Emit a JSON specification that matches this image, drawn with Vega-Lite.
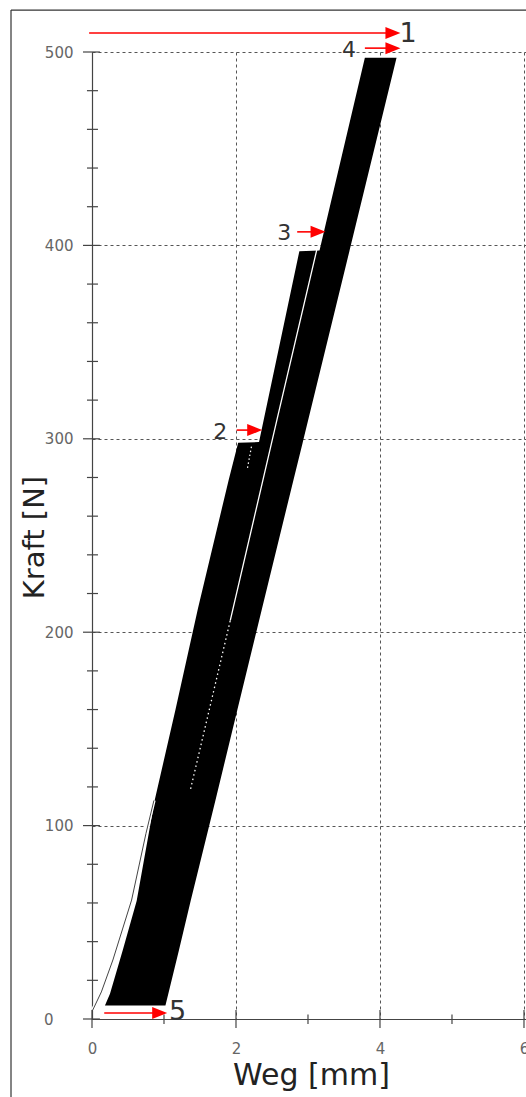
{
  "$schema": "https://vega.github.io/schema/vega-lite/v6.json",
  "width": 434,
  "height": 967,
  "autosize": {"type": "none"},
  "padding": {"left": 92, "top": 52, "right": 0, "bottom": 78},
  "background": "white",
  "config": {"view": {"stroke": null}, "font": "DejaVu Sans"},
  "datasets": {
    "one": [{}],
    "band": [
      {"F": 7, "l": 0.18, "r": 1.02},
      {"F": 13, "l": 0.25, "r": 1.06},
      {"F": 36, "l": 0.43, "r": 1.21},
      {"F": 61, "l": 0.62, "r": 1.37},
      {"F": 113, "l": 0.87, "r": 1.714},
      {"F": 160, "l": 1.16, "r": 2.02},
      {"F": 212, "l": 1.47, "r": 2.36},
      {"F": 279, "l": 1.9, "r": 2.8},
      {"F": 298, "l": 2.03, "r": 2.926},
      {"F": 298.3, "l": 2.32, "r": 2.928},
      {"F": 397, "l": 2.88, "r": 3.575},
      {"F": 397.3, "l": 3.16, "r": 3.577},
      {"F": 497, "l": 3.79, "r": 4.23}
    ],
    "gap_upper": [
      {"F": 399, "x": 3.13},
      {"F": 310, "x": 2.57},
      {"F": 206, "x": 1.92}
    ],
    "gap_lower": [
      {"F": 206, "x": 1.92},
      {"F": 119, "x": 1.37}
    ],
    "gap_a": [
      {"F": 297, "x": 2.22},
      {"F": 285, "x": 2.16}
    ],
    "initial": [
      {"F": 4.6, "x": 0.01},
      {"F": 14, "x": 0.13},
      {"F": 30.5, "x": 0.29},
      {"F": 61.5, "x": 0.55},
      {"F": 96, "x": 0.75},
      {"F": 113, "x": 0.86}
    ],
    "yticks_major": [{"v": 0}, {"v": 100}, {"v": 200}, {"v": 300}, {"v": 400}, {"v": 500}],
    "yticks_minor": [
      {"v": 20}, {"v": 40}, {"v": 60}, {"v": 80},
      {"v": 120}, {"v": 140}, {"v": 160}, {"v": 180},
      {"v": 220}, {"v": 240}, {"v": 260}, {"v": 280},
      {"v": 320}, {"v": 340}, {"v": 360}, {"v": 380},
      {"v": 420}, {"v": 440}, {"v": 460}, {"v": 480}
    ],
    "xticks_major": [{"v": 0}, {"v": 2}, {"v": 4}, {"v": 6}],
    "xticks_minor": [{"v": 1}, {"v": 3}, {"v": 5}],
    "arrows": [
      {"n": "1", "x0": -0.04, "x1": 4.18, "y": 509.8},
      {"n": "4", "x0": 3.79, "x1": 4.18, "y": 502},
      {"n": "3", "x0": 2.85, "x1": 3.14, "y": 407},
      {"n": "2", "x0": 2.01, "x1": 2.26, "y": 304.5},
      {"n": "5", "x0": 0.17, "x1": 0.94, "y": 3.1}
    ],
    "labels_big": [
      {"n": "1", "x": 4.39, "y": 509.5},
      {"n": "5", "x": 1.19, "y": 3.8}
    ],
    "labels_small": [
      {"n": "4", "x": 3.57, "y": 501},
      {"n": "3", "x": 2.67, "y": 406.5},
      {"n": "2", "x": 1.78, "y": 303.5}
    ]
  },
  "layer": [
    {
      "data": {"name": "one"},
      "mark": {"type": "rule", "color": "#333", "strokeWidth": 1.2},
      "encoding": {
        "x": {"datum": -1.125, "type": "quantitative", "scale": {"domain": [0, 6.028], "nice": false}},
        "x2": {"datum": 6.2},
        "y": {"datum": 521.7, "type": "quantitative", "scale": {"domain": [0, 500], "nice": false}}
      }
    },
    {
      "data": {"name": "one"},
      "mark": {"type": "rule", "color": "#333", "strokeWidth": 1.2},
      "encoding": {
        "x": {"datum": -1.125, "type": "quantitative", "scale": {"domain": [0, 6.028], "nice": false}},
        "y": {"datum": 521.7, "type": "quantitative", "scale": {"domain": [0, 500], "nice": false}},
        "y2": {"datum": -45}
      }
    },
    {
      "data": {"name": "band"},
      "mark": {"type": "area", "orient": "horizontal", "color": "black", "opacity": 1},
      "encoding": {
        "y": {
          "field": "F", "type": "quantitative",
          "scale": {"domain": [0, 500], "nice": false},
          "title": "Kraft [N]",
          "axis": {
            "values": [0, 100, 200, 300, 400, 500], "format": "d",
            "grid": true, "gridDash": [3, 3], "gridColor": "#555", "gridWidth": 1,
            "ticks": false, "tickSize": 0,
            "domainColor": "#444", "domainWidth": 1.2,
            "labelFont": "DejaVu Sans", "labelFontSize": 15, "labelColor": "#666",
            "labelPadding": {"condition": {"test": "datum.value === 0", "value": 39}, "value": 19},
            "titleFont": "DejaVu Sans", "titleFontSize": 29, "titleFontWeight": "normal", "titleColor": "#222",
            "titleX": -49, "titleY": 485, "titleBaseline": "alphabetic", "titleAngle": -90, "titleAlign": "center"
          }
        },
        "x": {
          "field": "l", "type": "quantitative",
          "scale": {"domain": [0, 6.028], "nice": false},
          "title": "Weg [mm]",
          "axis": {
            "values": [0, 2, 4, 6], "format": "d",
            "grid": true, "gridDash": [3, 3], "gridColor": "#555", "gridWidth": 1,
            "ticks": false, "tickSize": 0,
            "domainColor": "#444", "domainWidth": 1.2,
            "labelFont": "DejaVu Sans", "labelFontSize": 15, "labelColor": "#666",
            "labelBaseline": "alphabetic", "labelPadding": 34, "labelFlush": false,
            "titleFont": "DejaVu Sans", "titleFontSize": 30, "titleFontWeight": "normal", "titleColor": "#222",
            "titleX": 219, "titleY": 65, "titleBaseline": "alphabetic", "titleAlign": "center"
          }
        },
        "x2": {"field": "r"}
      }
    },
    {
      "data": {"name": "yticks_major"},
      "mark": {"type": "rule", "color": "#444", "strokeWidth": 1.2},
      "encoding": {
        "y": {"field": "v", "type": "quantitative", "scale": {"domain": [0, 500], "nice": false}},
        "x": {"datum": -0.125, "type": "quantitative", "scale": {"domain": [0, 6.028], "nice": false}},
        "x2": {"datum": 0.11}
      }
    },
    {
      "data": {"name": "yticks_minor"},
      "mark": {"type": "rule", "color": "#444", "strokeWidth": 1.2},
      "encoding": {
        "y": {"field": "v", "type": "quantitative", "scale": {"domain": [0, 500], "nice": false}},
        "x": {"datum": -0.07, "type": "quantitative", "scale": {"domain": [0, 6.028], "nice": false}},
        "x2": {"datum": 0.083}
      }
    },
    {
      "data": {"name": "xticks_major"},
      "mark": {"type": "rule", "color": "#444", "strokeWidth": 1.2},
      "encoding": {
        "x": {"field": "v", "type": "quantitative", "scale": {"domain": [0, 6.028], "nice": false}},
        "y": {"datum": -4.6, "type": "quantitative", "scale": {"domain": [0, 500], "nice": false}},
        "y2": {"datum": 4.6}
      }
    },
    {
      "data": {"name": "xticks_minor"},
      "mark": {"type": "rule", "color": "#444", "strokeWidth": 1.2},
      "encoding": {
        "x": {"field": "v", "type": "quantitative", "scale": {"domain": [0, 6.028], "nice": false}},
        "y": {"datum": -2.6, "type": "quantitative", "scale": {"domain": [0, 500], "nice": false}},
        "y2": {"datum": 2.3}
      }
    },
    {
      "data": {"name": "gap_upper"},
      "mark": {"type": "line", "color": "white", "strokeWidth": 1.3},
      "encoding": {
        "x": {"field": "x", "type": "quantitative", "scale": {"domain": [0, 6.028], "nice": false}},
        "y": {"field": "F", "type": "quantitative", "scale": {"domain": [0, 500], "nice": false}},
        "order": {"field": "F"}
      }
    },
    {
      "data": {"name": "gap_lower"},
      "mark": {"type": "line", "color": "white", "strokeWidth": 1.3, "strokeDash": [1.5, 3]},
      "encoding": {
        "x": {"field": "x", "type": "quantitative", "scale": {"domain": [0, 6.028], "nice": false}},
        "y": {"field": "F", "type": "quantitative", "scale": {"domain": [0, 500], "nice": false}},
        "order": {"field": "F"}
      }
    },
    {
      "data": {"name": "gap_a"},
      "mark": {"type": "line", "color": "white", "strokeWidth": 1.2, "strokeDash": [1.5, 2.5]},
      "encoding": {
        "x": {"field": "x", "type": "quantitative", "scale": {"domain": [0, 6.028], "nice": false}},
        "y": {"field": "F", "type": "quantitative", "scale": {"domain": [0, 500], "nice": false}},
        "order": {"field": "F"}
      }
    },
    {
      "data": {"name": "initial"},
      "mark": {"type": "line", "color": "white", "strokeWidth": 3.5},
      "encoding": {
        "x": {"field": "x", "type": "quantitative", "scale": {"domain": [0, 6.028], "nice": false}},
        "y": {"field": "F", "type": "quantitative", "scale": {"domain": [0, 500], "nice": false}},
        "order": {"field": "F"}
      }
    },
    {
      "data": {"name": "initial"},
      "mark": {"type": "line", "color": "#444", "strokeWidth": 1},
      "encoding": {
        "x": {"field": "x", "type": "quantitative", "scale": {"domain": [0, 6.028], "nice": false}},
        "y": {"field": "F", "type": "quantitative", "scale": {"domain": [0, 500], "nice": false}},
        "order": {"field": "F"}
      }
    },
    {
      "data": {"name": "arrows"},
      "mark": {"type": "rule", "color": "#ff0000", "strokeWidth": 1.6},
      "encoding": {
        "x": {"field": "x0", "type": "quantitative", "scale": {"domain": [0, 6.028], "nice": false}},
        "x2": {"field": "x1"},
        "y": {"field": "y", "type": "quantitative", "scale": {"domain": [0, 500], "nice": false}}
      }
    },
    {
      "data": {"name": "arrows"},
      "mark": {"type": "point", "shape": "M-1,-0.8L1,0L-1,0.8Z", "size": 225, "filled": true, "color": "#ff0000", "opacity": 1, "strokeWidth": 0},
      "encoding": {
        "x": {"field": "x1", "type": "quantitative", "scale": {"domain": [0, 6.028], "nice": false}},
        "y": {"field": "y", "type": "quantitative", "scale": {"domain": [0, 500], "nice": false}}
      }
    },
    {
      "data": {"name": "labels_big"},
      "mark": {"type": "text", "font": "DejaVu Sans", "fontSize": 27, "color": "#333", "align": "center", "baseline": "middle"},
      "encoding": {
        "x": {"field": "x", "type": "quantitative", "scale": {"domain": [0, 6.028], "nice": false}},
        "y": {"field": "y", "type": "quantitative", "scale": {"domain": [0, 500], "nice": false}},
        "text": {"field": "n"}
      }
    },
    {
      "data": {"name": "labels_small"},
      "mark": {"type": "text", "font": "DejaVu Sans", "fontSize": 22, "color": "#333", "align": "center", "baseline": "middle"},
      "encoding": {
        "x": {"field": "x", "type": "quantitative", "scale": {"domain": [0, 6.028], "nice": false}},
        "y": {"field": "y", "type": "quantitative", "scale": {"domain": [0, 500], "nice": false}},
        "text": {"field": "n"}
      }
    }
  ]
}
